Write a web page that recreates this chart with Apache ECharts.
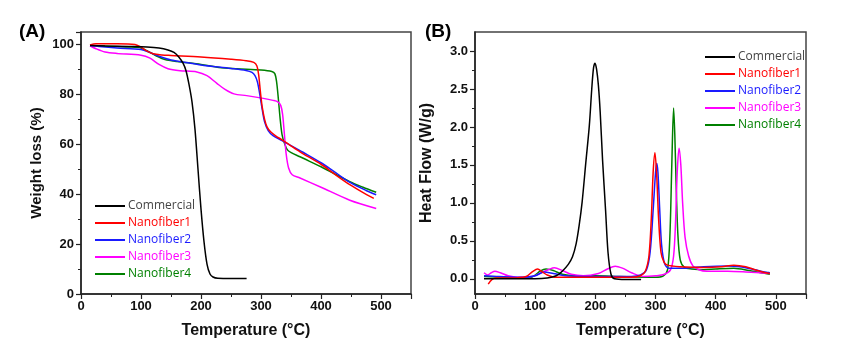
<!DOCTYPE html>
<html>
<head>
<meta charset="utf-8">
<script src="https://cdn.jsdelivr.net/npm/echarts@6/dist/echarts.min.js"></script>
<style>
html,body{margin:0;padding:0;background:#fff;}
#chart{width:847px;height:364px;}
</style>
</head>
<body>
<div id="chart"></div>
<script>
// ---- Data ----
var seriesNames = ['Commercial', 'Nanofiber1', 'Nanofiber2', 'Nanofiber3', 'Nanofiber4'];
var seriesColors = ['#000000', '#ff0000', '#1a1aff', '#ff00ff', '#008000'];
var legendTextColors = ['#444444', '#ff0000', '#1a1aff', '#ff00ff', '#008000'];

var xTicks = [0, 100, 200, 300, 400, 500];
var yTicksA = [0, 20, 40, 60, 80, 100];
var yTicksB = [0, 0.5, 1.0, 1.5, 2.0, 2.5, 3.0];
var yMinorB = [0.25, 0.75, 1.25, 1.75, 2.25, 2.75];

// Panel A: TGA (Temperature °C, Weight %)
var tgaCommercial = [[15,99.6],[40,99.4],[80,99.2],[110,99],[130,98.6],[145,97.8],[155,96.8],[163,95],[170,92.5],[175,89.5],[180,84],[185,77],[190,66],[195,50],[200,34],[205,21],[210,12],[215,8],[220,6.8],[228,6.3],[250,6.2],[276,6.2]];
var tgaN1 = [[15,99.8],[25,100.3],[60,100.3],[90,100],[100,98.9],[110,97.3],[120,96.3],[135,95.8],[150,95.6],[200,95],[250,94.1],[275,93.5],[288,92.8],[293,91.5],[296,88],[299,81],[302,75],[306,70],[310,67],[316,65],[325,63.3],[335,61.8],[348,59.7],[365,57],[400,52],[420,48.5],[448,43.8],[476,39.8],[488,38.3]];
var tgaN2 = [[15,99.6],[30,99.2],[60,98.6],[100,98],[115,96.8],[130,95.3],[150,93.8],[175,92.8],[200,91.8],[250,90.4],[275,89.6],[285,88.8],[290,87.5],[294,85],[298,80],[302,74],[306,69],[312,65.5],[320,63.5],[335,61.5],[350,59.5],[370,56.8],[400,52.6],[425,48.5],[450,44.5],[475,41.5],[492,39.8]];
var tgaN3 = [[15,99.5],[25,98.3],[40,97],[60,96.4],[100,95.7],[115,94.5],[130,92],[145,90.3],[165,89.5],[193,89],[210,87.5],[226,84.5],[240,82],[255,80.2],[276,79.5],[304,78.4],[320,77.6],[328,77],[333,75.5],[336,72],[339,64],[342,56],[346,50.5],[352,47.8],[365,46.5],[400,42.8],[448,37.6],[492,34.3]];
var tgaN4 = [[15,99.6],[40,99.4],[80,99],[100,98.6],[110,97.5],[125,95.5],[140,94],[160,93.2],[200,92],[230,90.8],[260,90.3],[300,89.8],[318,89.2],[323,88.3],[326,85],[329,78],[332,70],[335,64],[339,60.5],[345,57.5],[365,55],[400,51],[448,45],[470,42.8],[492,40.8]];

// Panel B: DSC (Temperature °C, Heat flow W/g)
var dscCommercial = [[15,0.0],[60,0.0],[100,0.0],[120,0.01],[135,0.04],[145,0.1],[155,0.19],[162,0.29],[168,0.46],[173,0.7],[178,1.01],[184,1.52],[190,2.02],[194,2.5],[197,2.78],[199.5,2.84],[202,2.76],[205,2.55],[208,2.2],[212,1.56],[217,0.9],[221,0.35],[226,0.06],[232,0.0],[250,-0.01],[276,-0.01]];
var dscN1 = [[22,-0.07],[28,-0.01],[35,0.01],[60,0.01],[85,0.03],[95,0.09],[104,0.13],[112,0.09],[120,0.05],[135,0.02],[200,0.02],[260,0.02],[275,0.04],[283,0.1],[289,0.3],[293,0.8],[296,1.4],[299,1.66],[302,1.35],[305,0.8],[309,0.35],[314,0.22],[320,0.18],[340,0.16],[380,0.15],[410,0.16],[430,0.18],[450,0.16],[465,0.12],[478,0.09],[490,0.07]];
var dscN2 = [[15,0.04],[40,0.03],[80,0.02],[100,0.04],[115,0.09],[130,0.07],[150,0.04],[180,0.03],[260,0.03],[275,0.05],[285,0.12],[291,0.35],[296,0.9],[300,1.4],[302,1.52],[304,1.4],[307,0.9],[310,0.45],[315,0.2],[322,0.14],[350,0.14],[380,0.16],[420,0.17],[440,0.16],[460,0.13],[475,0.1],[490,0.08]];
var dscN3 = [[15,0.08],[21,0.05],[27,0.08],[33,0.1],[42,0.08],[55,0.04],[70,0.02],[95,0.03],[110,0.08],[122,0.12],[132,0.145],[145,0.11],[160,0.06],[180,0.04],[205,0.07],[220,0.13],[233,0.167],[245,0.14],[260,0.08],[280,0.03],[300,0.04],[315,0.06],[325,0.12],[330,0.3],[333,0.7],[336,1.4],[339,1.72],[342,1.5],[345,1.0],[349,0.55],[355,0.3],[362,0.17],[372,0.12],[385,0.1],[420,0.1],[450,0.09],[490,0.07]];
var dscN4 = [[15,0.03],[50,0.02],[90,0.01],[100,0.05],[108,0.1],[118,0.13],[130,0.11],[145,0.06],[165,0.04],[200,0.04],[240,0.03],[300,0.02],[313,0.04],[320,0.12],[324,0.6],[327,1.5],[330,2.25],[332,1.9],[334,1.3],[337,0.6],[341,0.25],[348,0.15],[360,0.13],[380,0.12],[400,0.13],[430,0.14],[455,0.11],[475,0.08],[490,0.06]];

var tgaData = [tgaCommercial, tgaN1, tgaN2, tgaN3, tgaN4];
var dscData = [dscCommercial, dscN1, dscN2, dscN3, dscN4];

// ---- Chart ----
var FONT = 'Liberation Sans, Arial, sans-serif';
var AXC = '#222';
var chart = echarts.init(document.getElementById('chart'), null, {renderer: 'canvas'});

function xAxisCfg(grid) {
  return {
    type: 'value', gridIndex: grid, min: 0, max: 550, interval: 100,
    name: 'Temperature (\u00B0C)', nameLocation: 'middle', nameGap: 29,
    nameTextStyle: {fontFamily: FONT, fontWeight: 'bold', fontSize: 16, color: '#111'},
    axisLine: {show: true, onZero: false, lineStyle: {color: AXC, width: 1.5}},
    axisTick: {show: true, inside: false, length: 5, lineStyle: {color: AXC, width: 1.2}},
    minorTick: {show: true, splitNumber: 2, length: 3, lineStyle: {color: AXC, width: 1}},
    axisLabel: {show: true, showMaxLabel: false, margin: 6, fontFamily: FONT, fontWeight: 'bold', fontSize: 13, color: '#111'},
    splitLine: {show: false}, minorSplitLine: {show: false}
  };
}

var legendData = seriesNames.map(function (n, i) {
  return {name: n, textStyle: {color: legendTextColors[i]}};
});
function legendCfg(left, top) {
  return {
    left: left, top: top, orient: 'vertical', itemWidth: 30, itemHeight: 2, itemGap: 3,
    icon: 'rect', data: legendData, selectedMode: false,
    textStyle: {fontFamily: 'Open Sans, Liberation Sans, sans-serif', fontSize: 12, lineHeight: 14, padding: [0, 0, 0, -2]},
    padding: 0
  };
}

var series = [];
seriesNames.forEach(function (n, i) {
  series.push({
    name: n, type: 'line', xAxisIndex: 0, yAxisIndex: 0, data: tgaData[i],
    showSymbol: false, smooth: 0.3, lineStyle: {color: seriesColors[i], width: 1.5},
    itemStyle: {color: seriesColors[i]}, z: 10 - i
  });
  series.push({
    name: n, type: 'line', xAxisIndex: 1, yAxisIndex: 1, data: dscData[i],
    showSymbol: false, smooth: 0.3, lineStyle: {color: seriesColors[i], width: 1.5},
    itemStyle: {color: seriesColors[i]}, z: 10 - i
  });
});

var option = {
  animation: false,
  backgroundColor: '#fff',
  grid: [
    {left: 81, top: 32, width: 330, height: 262, show: true, borderColor: '#444', borderWidth: 1.5, backgroundColor: 'transparent'},
    {left: 475, top: 32, width: 331, height: 262, show: true, borderColor: '#444', borderWidth: 1.5, backgroundColor: 'transparent'},
    {left: 475, top: 32, width: 331, height: 262, show: false}
  ],
  xAxis: [xAxisCfg(0), xAxisCfg(1),
    {type: 'value', gridIndex: 2, min: 0, max: 550, show: false}
  ],
  yAxis: [
    {
      type: 'value', gridIndex: 0, min: 0, max: 105, interval: 20,
      name: 'Weight loss (%)', nameLocation: 'middle', nameGap: 37,
      nameTextStyle: {fontFamily: FONT, fontWeight: 'bold', fontSize: 15, color: '#111'},
      axisLine: {show: true, onZero: false, lineStyle: {color: AXC, width: 1.5}},
      axisTick: {show: true, inside: false, length: 5, lineStyle: {color: AXC, width: 1.2}},
      minorTick: {show: true, splitNumber: 2, length: 3, lineStyle: {color: AXC, width: 1}},
      axisLabel: {show: true, showMaxLabel: false, margin: 7, fontFamily: FONT, fontWeight: 'bold', fontSize: 13, color: '#111'},
      splitLine: {show: false}, minorSplitLine: {show: false}
    },
    {
      type: 'value', gridIndex: 1, min: -0.2, max: 3.25, position: 'left',
      name: 'Heat Flow (W/g)', nameLocation: 'middle', nameGap: 40,
      nameTextStyle: {fontFamily: FONT, fontWeight: 'bold', fontSize: 16, color: '#111'},
      axisLine: {show: true, onZero: false, lineStyle: {color: AXC, width: 1.5}},
      axisTick: {show: true, inside: false, length: 5, customValues: yTicksB, lineStyle: {color: AXC, width: 1.2}},
      axisLabel: {show: true, margin: 7, customValues: yTicksB, fontFamily: FONT, fontWeight: 'bold', fontSize: 13, color: '#111',
        formatter: function (v) { return v.toFixed(1); }},
      splitLine: {show: false}
    },
    {
      type: 'value', gridIndex: 2, min: -0.2, max: 3.25, position: 'left',
      axisLine: {show: false, onZero: false},
      axisTick: {show: true, inside: false, length: 3, customValues: yMinorB, lineStyle: {color: AXC, width: 1}},
      axisLabel: {show: false, customValues: yMinorB},
      splitLine: {show: false}
    }
  ],
  legend: [legendCfg(95, 199), legendCfg(705, 50)],
  graphic: [
    {type: 'text', left: 19, top: 22, style: {text: '(A)', font: 'bold 19px ' + FONT, fill: '#000'}},
    {type: 'text', left: 425, top: 22, style: {text: '(B)', font: 'bold 19px ' + FONT, fill: '#000'}}
  ],
  series: series
};
chart.setOption(option);
</script>
</body>
</html>
